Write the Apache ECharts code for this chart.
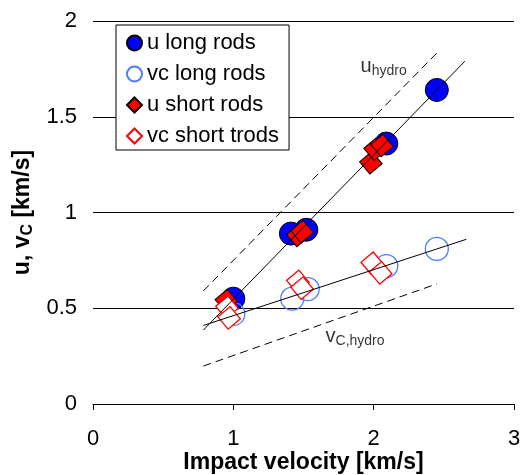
<!DOCTYPE html>
<html>
<head>
<meta charset="utf-8">
<script src="https://cdn.jsdelivr.net/npm/echarts@6/dist/echarts.min.js"></script>
<style>html,body{margin:0;padding:0;background:#fff}#c{width:523px;height:475px}</style>
</head>
<body>
<div id="c"></div>
<script>
// Data
const uLongX  = [1.00, 1.41, 1.52, 2.09, 2.45];
const uLongY  = [0.55, 0.89, 0.91, 1.36, 1.64];
const vcLongX = [1.00, 1.42, 1.53, 2.09, 2.45];
const vcLongY = [0.47, 0.55, 0.60, 0.72, 0.81];
const uShortX = [0.95, 1.46, 1.49, 1.98, 2.01, 2.06];
const uShortY = [0.54, 0.88, 0.90, 1.26, 1.33, 1.35];
const vcShortX = [0.955, 0.97, 1.46, 1.49, 1.99, 2.05];
const vcShortY = [0.505, 0.45, 0.64, 0.605, 0.735, 0.685];
// fit / hydro lines (endpoints)
const uFitX = [0.786, 2.65];    const uFitY = [0.386, 1.79];
const vcFitX = [0.786, 2.66];   const vcFitY = [0.41, 0.86];
const uHydroX = [0.786, 2.45];  const uHydroY = [0.59, 1.833];
const vcHydroX = [0.786, 2.45]; const vcHydroY = [0.198, 0.627];
const xTicks = [0, 1, 2, 3];
const yTicks = [0, 0.5, 1, 1.5, 2];
const seriesNames = ['u long rods', 'vc long rods', 'u short rods', 'vc short trods'];

const zip = (xs, ys) => xs.map((x, i) => [x, ys[i]]);
const FONT = "'Liberation Sans', Arial, sans-serif";

const chart = echarts.init(document.getElementById('c'), null, {renderer: 'canvas'});
const lineSeries = (xs, ys, dashed) => ({
  type: 'line', data: zip(xs, ys), symbol: 'none', silent: true, z: 5,
  lineStyle: {color: '#000', width: 1, type: dashed ? [8, 5] : 'solid'},
  legendHoverLink: false
});
const option = {
  animation: false,
  textStyle: {fontFamily: FONT},
  grid: {left: 93, right: 9, top: 21, bottom: 71, containLabel: false, outerBoundsMode: 'none'},
  xAxis: {
    type: 'value', min: xTicks[0], max: xTicks[xTicks.length - 1], interval: 1,
    splitLine: {show: false},
    axisLine: {show: true, lineStyle: {color: '#000', width: 1}},
    axisTick: {show: true, length: 6, lineStyle: {color: '#000'}},
    axisLabel: {color: '#000', fontSize: 22, margin: 24, fontFamily: FONT},
    name: 'Impact velocity [km/s]', nameLocation: 'middle', nameGap: 47, nameMoveOverlap: false,
    nameTextStyle: {color: '#000', fontSize: 23, fontWeight: 'bold', fontFamily: FONT}
  },
  yAxis: {
    type: 'value', min: yTicks[0], max: yTicks[yTicks.length - 1], interval: 0.5,
    splitLine: {show: true, lineStyle: {color: '#000', width: 1}},
    axisLine: {show: false}, axisTick: {show: false},
    axisLabel: {color: '#000', fontSize: 22, margin: 16, fontFamily: FONT},
    name: 'u, v{sub|C} [km/s]', nameLocation: 'middle', nameGap: 57, nameRotate: 90, nameMoveOverlap: false,
    nameTextStyle: {color: '#000', fontSize: 23, fontWeight: 'bold', fontFamily: FONT,
      rich: {sub: {fontSize: 16, fontWeight: 'bold', fontFamily: FONT, color: '#000', padding: [10, 0, 0, 0]}}}
  },
  legend: {
    orient: 'vertical', left: 116, top: 25,
    backgroundColor: '#fff', borderColor: '#000', borderWidth: 1,
    padding: [7, 10, 3, 10], itemGap: 9, itemWidth: 15, itemHeight: 15,
    symbolRotate: 0,
    textStyle: {fontSize: 22, lineHeight: 22, color: '#000', fontFamily: FONT},
    data: [
      {name: seriesNames[0], icon: 'circle'},
      {name: seriesNames[1], icon: 'circle'},
      {name: seriesNames[2], icon: 'diamond'},
      {name: seriesNames[3], icon: 'diamond'}
    ]
  },
  series: [
    {name: seriesNames[0], type: 'scatter', data: zip(uLongX, uLongY), symbol: 'circle', symbolSize: 23, z: 2,
      itemStyle: {color: '#0000ff', borderColor: '#000', borderWidth: 1, opacity: 1}},
    {name: seriesNames[1], type: 'scatter', data: zip(vcLongX, vcLongY), symbol: 'circle', symbolSize: 23, z: 2,
      itemStyle: {color: 'rgba(255,255,255,0)', borderColor: '#4d7cff', borderWidth: 1.3, opacity: 1}},
    {name: seriesNames[2], type: 'scatter', data: zip(uShortX, uShortY), symbol: 'rect', symbolSize: 16, symbolRotate: 40, z: 3,
      itemStyle: {color: '#ff0000', borderColor: '#000', borderWidth: 1, opacity: 1}},
    {name: seriesNames[3], type: 'scatter', data: zip(vcShortX, vcShortY), symbol: 'rect', symbolSize: 16, symbolRotate: 40, z: 3,
      itemStyle: {color: '#ffffff', borderColor: '#ff0000', borderWidth: 1.3, opacity: 1}},
    lineSeries(uFitX, uFitY, false),
    lineSeries(vcFitX, vcFitY, false),
    lineSeries(uHydroX, uHydroY, true),
    lineSeries(vcHydroX, vcHydroY, true),
    {type: 'scatter', symbolSize: 0, silent: true, z: 6,
      data: [
        {value: [1.907, 1.765], label: {formatter: 'u{s|hydro}'}},
        {value: [1.657, 0.355], label: {formatter: 'v{s|C,hydro}'}}
      ],
      label: {show: true, position: 'right', distance: 0, color: '#000', fontSize: 20, fontFamily: FONT,
        rich: {s: {fontSize: 14, color: '#000', fontFamily: FONT, padding: [10, 0, 0, 0]}}}
    }
  ]
};
chart.setOption(option);
</script>
</body>
</html>
